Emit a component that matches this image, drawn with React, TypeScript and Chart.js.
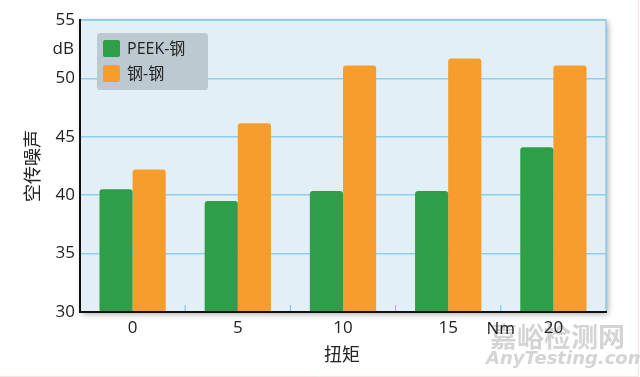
import React, { useEffect, useRef } from "react";
import { Chart, registerables } from "chart.js";

Chart.register(...registerables);

const categories = ["0", "5", "10", "15", "20"];
const peekSteel = [40.5, 39.5, 40.35, 40.35, 44.1];
const steelSteel = [42.2, 46.15, 51.1, 51.7, 51.1];
const seriesNames = ["PEEK-钢", "钢-钢"];
const yTicks = [30, 35, 40, 45, 50, 55];
const yTitle = "空传噪声";
const xTitle = "扭矩";
const yUnit = "dB";
const xUnit = "Nm";

const FONT = '"Open Sans", "Noto Sans CJK SC", sans-serif';
const GREEN = "#2f9e48";
const ORANGE = "#f69d2c";

const decor = {
  id: "decor",
  beforeDraw(chart: any) {
    const { ctx, chartArea: a, width, height } = chart;
    ctx.save();
    // faint outer frame
    ctx.strokeStyle = "#f5e4df";
    ctx.lineWidth = 1;
    ctx.beginPath();
    ctx.moveTo(0, height - 0.5);
    ctx.lineTo(width - 1.5, height - 0.5);
    ctx.lineTo(width - 1.5, 0);
    ctx.stroke();
    // watermark
    ctx.fillStyle = "rgba(205,205,205,0.85)";
    ctx.font = `bold 27px "Noto Sans CJK SC", sans-serif`;
    ctx.textAlign = "left";
    ctx.textBaseline = "middle";
    ctx.fillText("嘉峪检测网", 490, 337);
    ctx.font = `italic bold 18px "DejaVu Sans", sans-serif`;
    ctx.fillText("AnyTesting.com", 486, 359);
    // plot background with shadow
    ctx.shadowColor = "rgba(0,0,0,0.35)";
    ctx.shadowBlur = 6;
    ctx.shadowOffsetX = 2;
    ctx.shadowOffsetY = 2;
    ctx.fillStyle = "#e2eff6";
    ctx.fillRect(a.left, a.top, a.right - a.left, a.bottom - a.top);
    ctx.restore();
  },
  afterDraw(chart: any) {
    const { ctx, chartArea: a, scales } = chart;
    ctx.save();
    // top/right border
    ctx.strokeStyle = "#8ccbe8";
    ctx.lineWidth = 1.5;
    ctx.beginPath();
    ctx.moveTo(a.left, a.top);
    ctx.lineTo(a.right, a.top);
    ctx.lineTo(a.right, a.bottom);
    ctx.stroke();
    // minor ticks between categories
    const x = scales.x;
    ctx.strokeStyle = "#6cc3ea";
    ctx.lineWidth = 1;
    for (let i = 1; i < categories.length; i++) {
      const px = (x.getPixelForValue(i - 1) + x.getPixelForValue(i)) / 2;
      ctx.beginPath();
      ctx.moveTo(px, a.bottom);
      ctx.lineTo(px, a.bottom - 7);
      ctx.stroke();
    }
    // axis lines
    ctx.strokeStyle = "#111";
    ctx.lineWidth = 2;
    ctx.beginPath();
    ctx.moveTo(a.left, a.top - 1);
    ctx.lineTo(a.left, a.bottom);
    ctx.lineTo(a.right + 1, a.bottom);
    ctx.stroke();

    // units
    ctx.fillStyle = "#222";
    ctx.font = `17px ${FONT}`;
    ctx.textAlign = "right";
    ctx.textBaseline = "middle";
    ctx.fillText(yUnit, a.left - 6, scales.y.getPixelForValue(52.5));
    ctx.textAlign = "center";
    ctx.fillText(xUnit, (x.getPixelForValue(3) + x.getPixelForValue(4)) / 2, a.bottom + 17);

    // titles
    ctx.font = `18px ${FONT}`;
    ctx.fillText(xTitle, (a.left + a.right) / 2 - 1, a.bottom + 44);
    ctx.save();
    ctx.translate(34, (a.top + a.bottom) / 2);
    ctx.rotate(-Math.PI / 2);
    ctx.fillText(yTitle, 0, 0);
    ctx.restore();

    // legend
    const lx = a.left + 17, ly = a.top + 13, lw = 111, lh = 57;
    ctx.fillStyle = "#bcc9d1";
    ctx.beginPath();
    (ctx as any).roundRect(lx, ly, lw, lh, 3);
    ctx.fill();
    const cols = [GREEN, ORANGE];
    ctx.font = `16px ${FONT}`;
    ctx.textAlign = "left";
    for (let i = 0; i < 2; i++) {
      const sy = ly + 7 + i * 25;
      ctx.fillStyle = cols[i];
      ctx.beginPath();
      (ctx as any).roundRect(lx + 6, sy, 17, 17, 2);
      ctx.fill();
      ctx.fillStyle = "#222";
      ctx.fillText(seriesNames[i], lx + 30, sy + 9);
    }
    ctx.restore();
  },
};

export default function App() {
  const ref = useRef<HTMLCanvasElement>(null);
  useEffect(() => {
    if (!ref.current) return;
    const chart = new Chart(ref.current, {
      type: "bar",
      data: {
        labels: categories,
        datasets: [
          {
            label: seriesNames[0],
            data: peekSteel,
            backgroundColor: GREEN,
            borderRadius: { topLeft: 3, topRight: 3, bottomLeft: 0, bottomRight: 0 },
            borderSkipped: "bottom",
          },
          {
            label: seriesNames[1],
            data: steelSteel,
            backgroundColor: ORANGE,
            borderRadius: { topLeft: 3, topRight: 3, bottomLeft: 0, bottomRight: 0 },
            borderSkipped: "bottom",
          },
        ],
      },
      plugins: [decor],
      options: {
        animation: false,
        responsive: false,
        devicePixelRatio: 1,
        layout: { padding: { left: 0, right: 34, top: 20, bottom: 0 } },
        plugins: { legend: { display: false }, tooltip: { enabled: false } },
        datasets: { bar: { barPercentage: 1, categoryPercentage: 0.63 } },
        scales: {
          x: {
            grid: { display: false, drawTicks: false },
            border: { display: false },
            ticks: { color: "#222", font: { family: FONT, size: 17 }, padding: 6 },
            afterFit: (s: any) => { s.height = 65; },
          },
          y: {
            min: 30,
            max: 55,
            afterBuildTicks: (s: any) => { s.ticks = yTicks.map((v) => ({ value: v })); },
            grid: { color: "#8ed0ef", lineWidth: 1.5, drawTicks: false },
            border: { display: false },
            ticks: { color: "#222", font: { family: FONT, size: 17 }, padding: 5 },
            afterFit: (s: any) => { s.width = 80; },
          },
        },
      },
    });
    return () => chart.destroy();
  }, []);
  return (
    <div style={{ position: "fixed", left: 0, top: 0, width: 640, height: 377, background: "#fff" }}>
      <canvas ref={ref} width={640} height={377} style={{ width: 640, height: 377 }} />
    </div>
  );
}
